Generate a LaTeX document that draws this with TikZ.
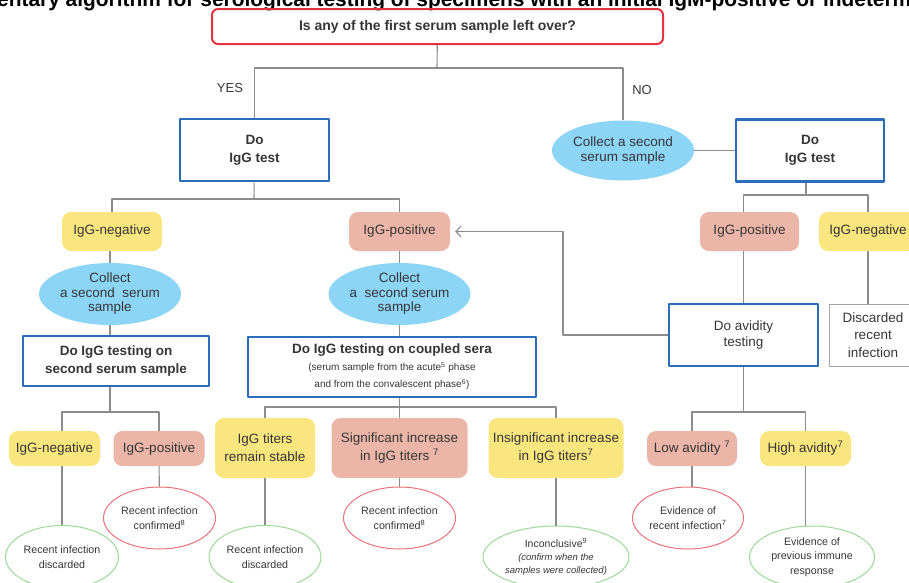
\documentclass[tikz,border=0pt]{standalone}
\usepackage{fontspec}
\setmainfont{Liberation Sans}
\usetikzlibrary{shapes.geometric,arrows.meta}
\definecolor{askred}{HTML}{E2333F}
\definecolor{testblue}{HTML}{2A6DB9}
\definecolor{negyellow}{HTML}{F9E67F}
\definecolor{pospink}{HTML}{EBB5A7}
\definecolor{skyblue}{HTML}{8DD5F6}
\definecolor{ringred}{HTML}{E9727B}
\definecolor{ringgreen}{HTML}{9BD997}
\definecolor{linegray}{HTML}{8C8C8C}
\definecolor{txt}{HTML}{363636}
\tikzset{
  every node/.style={inner sep=0pt,align=center,text=txt},
  sz/.style 2 args={minimum width=#1pt,minimum height=#2pt},
  askbox/.style={draw=askred,line width=2pt,rounded corners=6pt,font=\fontsize{14}{17}\selectfont\bfseries},
  testbox/.style={draw=testblue,line width=2.6pt,fill=white,font=\fontsize{13.5}{18}\selectfont\bfseries},
  avidbox/.style={draw=testblue,line width=2.6pt,fill=white,font=\fontsize{13.5}{17}\selectfont},
  discbox/.style={draw=linegray!80,line width=0.9pt,font=\fontsize{13.5}{17.5}\selectfont},
  negbox/.style={fill=negyellow,rounded corners=9pt,font=\fontsize{13.5}{18}\selectfont},
  posbox/.style={fill=pospink,rounded corners=9pt,font=\fontsize{13.5}{18}\selectfont},
  collect/.style={ellipse,fill=skyblue,font=\fontsize{13.5}{14.5}\selectfont},
  outred/.style={ellipse,draw=ringred,line width=1pt,font=\fontsize{10.7}{15}\selectfont},
  outgreen/.style={ellipse,draw=ringgreen,line width=1pt,font=\fontsize{10.7}{14.5}\selectfont},
  conn/.style={draw=linegray,line width=1.1pt}
}
\begin{document}
\begin{tikzpicture}[x=1pt,y=-1pt,line join=round,>={Straight Barb[length=5pt,width=11pt]}]
\useasboundingbox (0,0) rectangle (909,582);
\clip (0,0) rectangle (909,582);
\node[anchor=base west,font=\bfseries,text=black] (head) at (-3,6)
  {\resizebox{914pt}{!}{entary algorithm for serological testing of specimens with an initial IgM-positive or indeterm}};
% question and first tests
\node[askbox,sz={451}{35}] (q) at (437.5,26.5) {Is any of the first serum sample left over?};
\node[font=\fontsize{13}{15}\selectfont] (yes) at (230,88) {YES};
\node[font=\fontsize{13}{15}\selectfont] (no) at (642,90) {NO};
\node[testbox,sz={149}{62}] (dol) at (254.5,150) {Do\\IgG test};
\node[collect,sz={142}{60}] (colr) at (623,150.5) {Collect a second\\serum sample};
\node[testbox,sz={148}{62}] (dor) at (810,150.5) {Do\\IgG test};
% second row
\node[negbox,sz={100}{39}] (negL) at (112,231.5) {IgG-negative};
\node[posbox,sz={101}{39}] (posM) at (399.5,231.5) {IgG-positive};
\node[posbox,sz={99}{39}] (posR) at (749.5,231.5) {IgG-positive};
\node[negbox,sz={98}{39}] (negR) at (868,231.5) {IgG-negative};
\node[collect,sz={142}{62}] (colL) at (110,294) {Collect\\a second\ \ serum\\sample};
\node[collect,sz={142}{62}] (colM) at (399.5,294) {Collect\\a\ \ second serum\\sample};
\node[testbox,sz={186}{50}] (testL) at (116,361) {Do IgG testing on\\second serum sample};
\node[testbox,sz={288}{60},font=\fontsize{10}{17}\selectfont] (testM) at (392,367)
  {{\fontsize{13.5}{17}\selectfont\bfseries Do IgG testing on coupled sera}\\(serum sample from the acute\textsuperscript{5} phase\\and from the convalescent phase\textsuperscript{6})};
\node[avidbox,sz={149}{62}] (avid) at (743.5,335) {Do avidity\\testing};
\node[discbox,sz={88}{62},text width=86pt] (disc) at (873,335) {Discarded\\recent\\infection};
% results
\node[negbox,sz={91}{35}] (negB) at (54.5,448.5) {IgG-negative};
\node[posbox,sz={91}{35}] (posB) at (159,448.5) {IgG-positive};
\node[negbox,sz={100}{60}] (stab) at (265,448) {IgG titers\\remain stable};
\node[posbox,sz={136}{60}] (sig) at (399.5,448) {Significant increase\\in IgG titers \textsuperscript{7}};
\node[negbox,sz={135}{60}] (insig) at (556,448) {Insignificant increase\\in IgG titers\textsuperscript{7}};
\node[posbox,sz={90}{35}] (low) at (692,448.5) {Low avidity \textsuperscript{7}};
\node[negbox,sz={91}{35}] (high) at (805.5,448.5) {High avidity\textsuperscript{7}};
% outcomes
\node[outred,sz={112}{62}] (confL) at (159.5,518) {Recent infection\\confirmed\textsuperscript{8}};
\node[outgreen,sz={113}{63}] (discL) at (62,557) {Recent infection\\discarded};
\node[outgreen,sz={112}{63}] (discM) at (265,557) {Recent infection\\discarded};
\node[outred,sz={112}{62}] (confM) at (399.5,518) {Recent infection\\confirmed\textsuperscript{8}};
\node[outgreen,sz={146}{62},font=\fontsize{10.5}{13}\selectfont] (incon) at (556,557)
  {Inconclusive\textsuperscript{9}\\{\fontsize{9.5}{13}\selectfont\itshape (confirm when the}\\{\fontsize{9.5}{13}\selectfont\itshape samples were collected)}};
\node[outred,sz={111}{62}] (evrec) at (688,518) {Evidence of\\recent infection\textsuperscript{7}};
\node[outgreen,sz={125}{62}] (evprev) at (812,557) {Evidence of\\previous immune\\response};
% junctions
\coordinate (jq) at (437,68);
\coordinate (jdl) at (254,199);
\coordinate (jdr) at (806,195);
\coordinate (jtl) at (110,412);
\coordinate (jtm) at (399.5,407);
\coordinate (jav) at (743.5,412);
\coordinate (fb) at (563,231.5);
% connectors
\draw[conn] (q) -- (jq);
\draw[conn] (dol) |- (jq) -| (colr);
\draw[conn] (dol) -- (jdl);
\draw[conn] (negL) |- (jdl) -| (posM);
\draw[conn] (colL |- negL.south) -- (colL);
\draw[conn] (colL) -- (colL |- testL.north);
\draw[conn] (colL |- testL.south) -- (jtl);
\draw[conn] (discL |- negB.north) |- (jtl) -| (posB);
\draw[conn] (discL |- negB.south) -- (discL);
\draw[conn] (posB) -- (confL);
\draw[conn] (posM) -- (colM);
\draw[conn] (colM) -- (colM |- testM.north);
\draw[conn] (colM |- testM.south) -- (jtm);
\draw[conn] (stab) |- (jtm) -| (insig);
\draw[conn] (jtm) -- (sig);
\draw[conn] (stab) -- (discM);
\draw[conn] (sig) -- (confM);
\draw[conn] (insig) -- (incon);
\draw[conn] (colr) -- (dor);
\draw[conn] (jdr |- dor.south) -- (jdr);
\draw[conn] (avid |- posR.north) |- (jdr) -| (negR);
\draw[conn] (avid |- posR.south) -- (avid);
\draw[conn] (negR) -- (negR |- disc.north);
\draw[conn,->,shorten >=5pt] (avid) -| (fb) -- (posM);
\draw[conn] (avid) -- (jav);
\draw[conn] (low) |- (jav) -| (high);
\draw[conn] (low) -- (low |- evrec.north);
\draw[conn] (high) -- (high |- evprev.north);
\end{tikzpicture}
\end{document}
